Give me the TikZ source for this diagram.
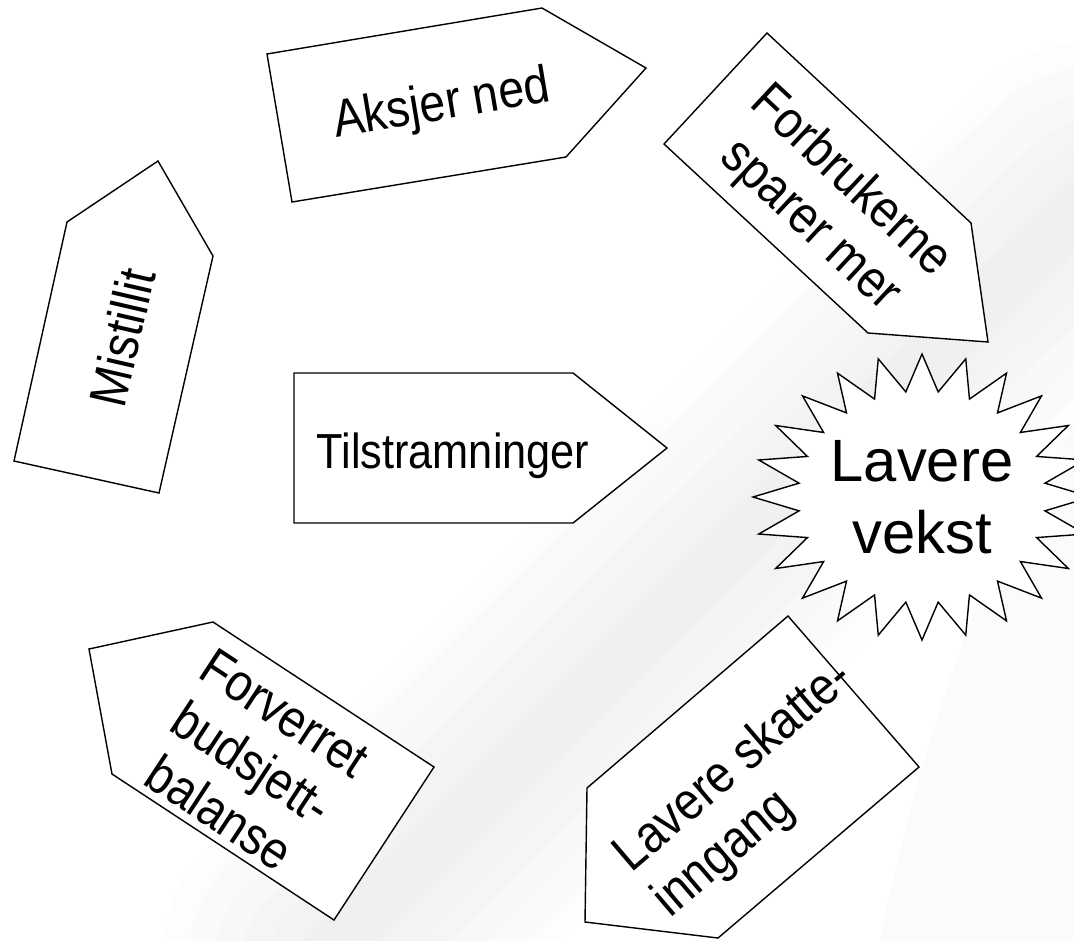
\documentclass[tikz,border=0pt]{standalone}
\usepackage{fontspec}
\setmainfont{Liberation Sans}
\newfontfamily\slimfont[FakeStretch=0.88]{Liberation Sans}
\usepackage{tikz}
\usetikzlibrary{calc}
\tikzset{
  pentagon/.style={draw=black, fill=white, line width=0.8pt, line join=miter},
  pentext/.style={font=\slimfont\fontsize{30}{34}\selectfont, align=center, inner sep=0pt},
  swoosh/.style={gray, opacity=0.02, line cap=round},
}

\begin{document}
\begin{tikzpicture}[x=0.02cm, y=-0.02cm]
            \useasboundingbox (0,0) rectangle (1074,940);
            \clip (0,0) rectangle (1074,940);
            % background swoosh
            \fill[gray, opacity=0.035] (1074,0) -- (1074,940) -- (880,940) .. controls (930,700) and (1000,520) .. (1074,430) -- cycle;
            \foreach \w in {30,60,...,180}
              \draw[swoosh, line width=\w] (320,960) .. controls (580,700) and (860,420) .. (1090,200);
            % coordinates
            \coordinate (aksjer-back1) at (267,54);
            \coordinate (aksjer-top) at (542,8);
            \coordinate (aksjer-tip) at (646,68);
            \coordinate (aksjer-bottom) at (566,157);
            \coordinate (aksjer-back2) at (292,202);
            \coordinate (forbruk-back1) at (767,33);
            \coordinate (forbruk-top) at (971,223);
            \coordinate (forbruk-tip) at (988,342);
            \coordinate (forbruk-bottom) at (868,333);
            \coordinate (forbruk-back2) at (664,144);
            \coordinate (mistillit-tip) at (158,161);
            \coordinate (mistillit-right) at (213,256);
            \coordinate (mistillit-back1) at (159,493);
            \coordinate (mistillit-back2) at (14,461);
            \coordinate (mistillit-left) at (67,222);
            \coordinate (tilstram-back1) at (294,373);
            \coordinate (tilstram-top) at (573,373);
            \coordinate (tilstram-tip) at (667,448);
            \coordinate (tilstram-bottom) at (573,523);
            \coordinate (tilstram-back2) at (294,523);
            \coordinate (budsjett-tip) at (89,649);
            \coordinate (budsjett-top) at (213,622);
            \coordinate (budsjett-back1) at (434,767);
            \coordinate (budsjett-back2) at (334,920);
            \coordinate (budsjett-bottom) at (112,774);
            \coordinate (skatt-back1) at (788,616);
            \coordinate (skatt-back2) at (919,767);
            \coordinate (skatt-bottom) at (718,938);
            \coordinate (skatt-tip) at (585,922);
            \coordinate (skatt-left) at (587,788);
            \coordinate (vekst-centre) at (922,497);
            % aksjer ned
            \draw[pentagon] (aksjer-back1) -- (aksjer-top) -- (aksjer-tip) -- (aksjer-bottom) -- (aksjer-back2) -- cycle;
            \node[pentext, rotate=9.5] (aksjer) at (442,106) {Aksjer ned};
            % forbrukerne sparer mer
            \draw[pentagon] (forbruk-back1) -- (forbruk-top) -- (forbruk-tip) -- (forbruk-bottom) -- (forbruk-back2) -- cycle;
            \node[pentext, rotate=-43] (forbrukerne) at (830,204) {Forbrukerne\\sparer mer};
            % mistillit
            \draw[pentagon] (mistillit-tip) -- (mistillit-right) -- (mistillit-back1) -- (mistillit-back2) -- (mistillit-left) -- cycle;
            \node[pentext, rotate=77] (mistillit) at (122,337) {Mistillit};
            % tilstramninger
            \draw[pentagon] (tilstram-back1) -- (tilstram-top) -- (tilstram-tip) -- (tilstram-bottom) -- (tilstram-back2) -- cycle;
            \node[pentext, font=\slimfont\fontsize{28}{34}\selectfont, anchor=base] (tilstramninger) at (453,468) {Tilstramninger};
            % forverret budsjettbalanse
            \draw[pentagon] (budsjett-tip) -- (budsjett-top) -- (budsjett-back1) -- (budsjett-back2) -- (budsjett-bottom) -- cycle;
            \node[pentext, rotate=-33.3] (budsjett) at (252,763) {Forverret\\budsjett-\\balanse};
            % lavere skatteinngang
            \draw[pentagon] (skatt-back1) -- (skatt-back2) -- (skatt-bottom) -- (skatt-tip) -- (skatt-left) -- cycle;
            \node[pentext, align=left, rotate=40.5] (skatt) at (754,790) {Lavere skatte-\\inngang};
            % star
            \draw[pentagon] plot[samples at={0,...,47}, variable=\k]
              ({922+ifthenelse(mod(\k,2)==0,169,124)*cos(90+7.5*\k)},
               {497-ifthenelse(mod(\k,2)==0,143,106)*sin(90+7.5*\k)}) -- cycle;
            \node[pentext, font=\fontsize{34}{41}\selectfont] (vekst) at (vekst-centre) {Lavere\\vekst};
        \end{tikzpicture}
\end{document}
